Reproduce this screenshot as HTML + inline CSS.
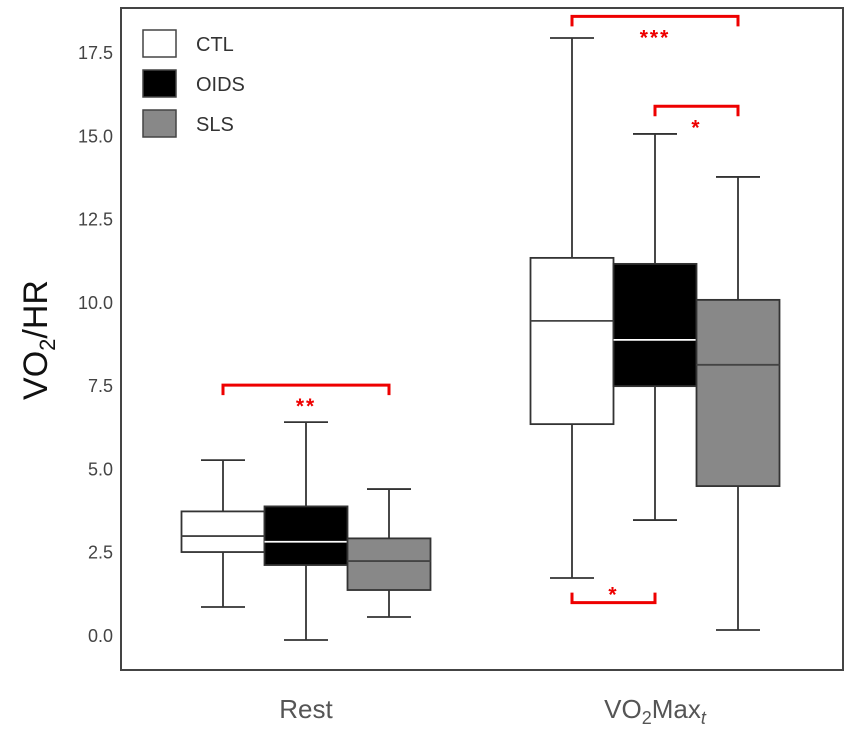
<!DOCTYPE html>
<html><head><meta charset="utf-8"><style>
body{margin:0;background:#fff;}
svg text{font-family:"Liberation Sans",sans-serif;}
</style></head><body>
<svg id="chart" width="851" height="731" xmlns="http://www.w3.org/2000/svg">
<rect x="121" y="8" width="722" height="662" fill="#fff" stroke="#444" stroke-width="2"/>
<g id="yaxis"></g>
<text transform="translate(47,340) rotate(-90)" text-anchor="middle" font-size="34" fill="#111">VO<tspan font-size="22" dy="8">2</tspan><tspan dy="-8">/HR</tspan></text>
<text x="306" y="718" text-anchor="middle" font-size="26" fill="#555">Rest</text>
<text x="655" y="718" text-anchor="middle" font-size="26" fill="#555">VO<tspan font-size="18" dy="6">2</tspan><tspan dy="-6">Max</tspan><tspan font-size="18" dy="6" font-style="italic">t</tspan></text>
<g id="boxes"></g>
<g id="sig"></g>
<g>
<rect x="143" y="30" width="33" height="27" fill="#fff" stroke="#444" stroke-width="1.5"/>
<text x="196" y="51" font-size="20" fill="#333">CTL</text>
<rect x="143" y="70" width="33" height="27" fill="#000" stroke="#444" stroke-width="1.5"/>
<text x="196" y="91" font-size="20" fill="#333">OIDS</text>
<rect x="143" y="110" width="33" height="27" fill="#888" stroke="#444" stroke-width="1.5"/>
<text x="196" y="131" font-size="20" fill="#333">SLS</text>
</g>
</svg>
<script>
const categories=["Rest","VO2Max"];
const groups=["CTL","OIDS","SLS"];
const yTicks=[0,2.5,5,7.5,10,12.5,15,17.5];
const mins=[[0.87,-0.12,0.57],[1.74,3.48,0.18]];
const q1s=[[2.52,2.13,1.38],[6.36,7.5,4.5]];
const medians=[[3.0,2.83,2.25],[9.46,8.89,8.14]];
const q3s=[[3.74,3.89,2.93],[11.35,11.17,10.09]];
const maxs=[[5.28,6.42,4.41],[17.95,15.07,13.78]];
const fills=["#fff","#000","#888"];
const medColors=["#444","#fff","#444"];
const sigFrom=[0,1,0,0];const sigTo=[2,2,2,1];const sigCat=[0,1,1,1];
const sigLevel=[7.53,15.9,18.6,1.0];const sigLabel=["**","*","***","*"];const sigUp=[false,false,false,true];
const NS="http://www.w3.org/2000/svg";
function y(v){return 636-v*33.314;}
function xc(c,g){return [306,655][c]+(g-1)*83;}
const bw=83;
function mk(t,a,p){const e=document.createElementNS(NS,t);for(const k in a)e.setAttribute(k,a[k]);p.appendChild(e);return e;}
const ya=document.getElementById('yaxis');
yTicks.forEach(t=>{const e=mk('text',{x:113,y:y(t)+6,'text-anchor':'end','font-size':18,fill:'#444'},ya);e.textContent=t.toFixed(1);

});
const bx=document.getElementById('boxes');
categories.forEach((c,ci)=>groups.forEach((g,gi)=>{
 const gg=mk('g',{},bx);
 
 
 const x=xc(ci,gi),s={stroke:'#333','stroke-width':1.8};
 mk('line',{x1:x,x2:x,y1:y(maxs[ci][gi]),y2:y(q3s[ci][gi]),...s},gg);
 mk('line',{x1:x,x2:x,y1:y(q1s[ci][gi]),y2:y(mins[ci][gi]),...s},gg);
 mk('line',{x1:x-22,x2:x+22,y1:y(maxs[ci][gi]),y2:y(maxs[ci][gi]),...s},gg);
 mk('line',{x1:x-22,x2:x+22,y1:y(mins[ci][gi]),y2:y(mins[ci][gi]),...s},gg);
 mk('rect',{x:x-bw/2,y:y(q3s[ci][gi]),width:bw,height:y(q1s[ci][gi])-y(q3s[ci][gi]),fill:fills[gi],...s},gg);
 mk('line',{x1:x-bw/2,x2:x+bw/2,y1:y(medians[ci][gi]),y2:y(medians[ci][gi]),stroke:medColors[gi],'stroke-width':1.8},gg);
}));
const sg=document.getElementById('sig');
sigLabel.forEach((l,i)=>{
 const g=mk('g',{},sg);
 
 
 const x1=xc(sigCat[i],sigFrom[i]),x2=xc(sigCat[i],sigTo[i]),yy=y(sigLevel[i]),d=sigUp[i]?-10:10;
 mk('path',{d:`M${x1},${yy+d}V${yy}H${x2}V${yy+d}`,fill:'none',stroke:'#e00','stroke-width':3},g);
 const t=mk('text',{x:(x1+x2)/2,y:sigUp[i]?yy-1:yy+28,'text-anchor':'middle','font-size':21,'font-weight':'bold',fill:'#e00','letter-spacing':2},g);
 t.textContent=l;
});
</script>
</body></html>
